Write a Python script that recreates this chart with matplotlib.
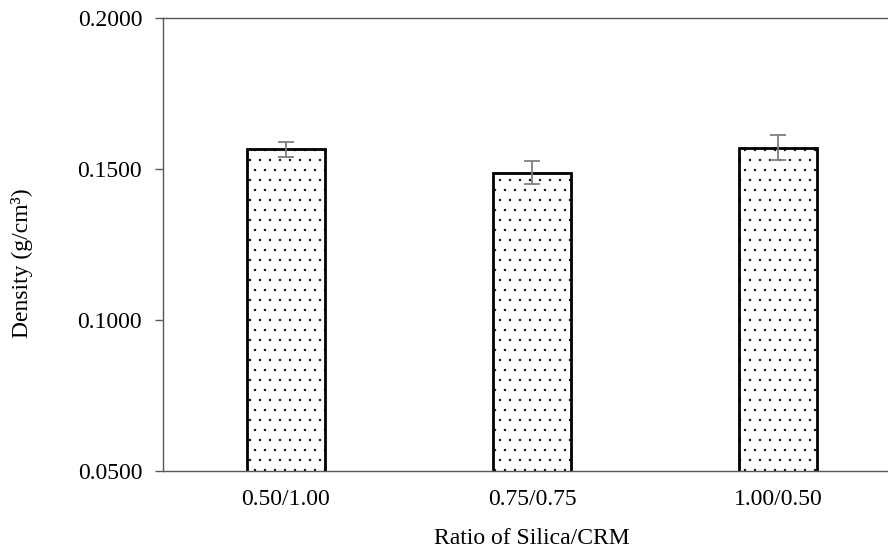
import numpy as np
import matplotlib.pyplot as plt

plt.rcParams['font.family'] = ['Liberation Serif', 'DejaVu Serif']
plt.rcParams['hatch.linewidth'] = 0.5

# data
ratios = ["0.50/1.00", "0.75/0.75", "1.00/0.50"]
density = [0.1565, 0.1488, 0.1571]
density_err = [0.0025, 0.0037, 0.0040]
yticks = [0.05, 0.10, 0.15, 0.20]

# low dpi so the '.' hatch gets roughly the dot spacing of the original
DPI = 60
k = 100 / DPI  # points at this dpi for one "100-dpi point"

fig = plt.figure(figsize=(888 / DPI, 552 / DPI), dpi=DPI)
ax = fig.add_axes([163 / 888, 81 / 552, 738 / 888, 453 / 552])

x = np.arange(len(ratios))
ax.bar(x, density, width=0.32, color="white", edgecolor="black",
       linewidth=2 * k, hatch=".", zorder=2)
ax.errorbar(x, density, yerr=density_err, fmt="none", ecolor="#7f7f7f",
            elinewidth=1.3 * k, capsize=6 * k, capthick=1.3 * k, zorder=3)

ax.set_xlim(-0.5, 2.5)
ax.set_ylim(0.05, 0.20)
ax.set_yticks(yticks)
ax.set_yticklabels([f"{v:.4f}" for v in yticks])
ax.set_xticks(x)
ax.set_xticklabels(ratios)

for s in ax.spines.values():
    s.set_color("#595959")
    s.set_linewidth(1.0 * k)
ax.tick_params(axis="y", direction="out", length=6 * k, width=1 * k,
               color="#595959", labelsize=17 * k, pad=9 * k)
ax.tick_params(axis="x", length=0, labelsize=17 * k, pad=13 * k)

ax.set_ylabel("Density (g/cm³)", fontsize=17 * k)
ax.yaxis.set_label_coords(-0.176, 0.459)
ax.set_xlabel("Ratio of Silica/CRM", fontsize=17 * k, labelpad=13 * k)

fig.savefig("out.png", dpi=DPI)
